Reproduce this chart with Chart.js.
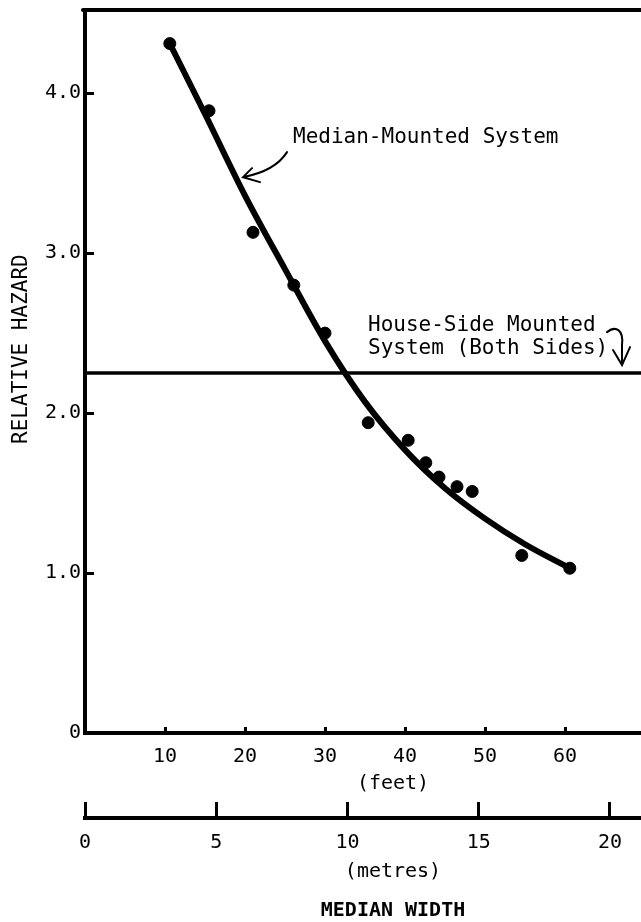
<!DOCTYPE html>
<html>
<head>
<meta charset="utf-8">
<title>Relative hazard vs median width</title>
<script src="https://cdn.jsdelivr.net/npm/chart.js@4/dist/chart.umd.min.js"></script>
<style>
  html, body { margin: 0; padding: 0; background: #fff; }
  canvas { display: block; }
</style>
</head>
<body>
<canvas id="hazardCanvas" width="641" height="922"></canvas>
<script>
// Valores (largura do canteiro em pés x risco relativo).
const feetObserved   = [10.6, 15.5, 21.0, 26.1, 30.0, 35.4, 40.4, 42.6, 44.25, 46.5, 48.4, 54.6, 60.6];
const hazardObserved = [4.31, 3.89, 3.13, 2.80, 2.50, 1.94, 1.83, 1.69, 1.60, 1.54, 1.51, 1.11, 1.03];

// Curva ajustada (Median-Mounted System), lida ao longo do traço.
const feetFitted   = [10.6, 15, 20, 25, 30, 35, 40, 45, 50, 55, 60.6];
const hazardFitted = [4.31, 3.87, 3.36, 2.90, 2.45, 2.07, 1.77, 1.53, 1.34, 1.18, 1.03];

// Nível constante do sistema montado dos dois lados.
const houseSideHazard = 2.25;

// Ticks
const feetTicks        = [10, 20, 30, 40, 50, 60];
const metreTicks       = [0, 5, 10, 15, 20];
const hazardTicks      = [0, 1, 2, 3, 4];
const hazardTickLabels = ['0', '1.0', '2.0', '3.0', '4.0'];

const FEET_MAX   = 69.5;
const HAZARD_MAX = 4.52;
const FT_PER_M   = 3.2808;

const FONT = "'DejaVu Sans Mono', monospace";
Chart.defaults.font.family = FONT;
Chart.defaults.font.size = 20;
Chart.defaults.color = '#000';

// Sem folga automática: a área do gráfico vai até a borda direita.
function noPad(s) {
  s.paddingTop = 0; s.paddingBottom = 0; s.paddingLeft = 0; s.paddingRight = 0;
}

// Títulos, setas e moldura de cima — desenhados por cima do gráfico.
const annotate = {
  id: 'annotate',
  afterDraw(chart) {
    const { ctx, chartArea: a } = chart;
    const x = chart.scales.x, y = chart.scales.y, xm = chart.scales.xm;
    ctx.save();
    ctx.strokeStyle = '#000';
    ctx.fillStyle = '#000';
    ctx.lineCap = 'round';

    // moldura superior
    ctx.lineWidth = 4;
    ctx.beginPath();
    ctx.moveTo(a.left - 2, a.top);
    ctx.lineTo(a.right, a.top);
    ctx.stroke();

    // título do eixo y
    ctx.save();
    ctx.translate(22, y.getPixelForValue(2.4));
    ctx.rotate(-Math.PI / 2);
    ctx.font = '21px ' + FONT;
    ctx.textAlign = 'center';
    ctx.textBaseline = 'middle';
    ctx.fillText('RELATIVE HAZARD', 0, 0);
    ctx.restore();

    // rótulos das curvas
    ctx.font = '21px ' + FONT;
    ctx.textAlign = 'left';
    ctx.textBaseline = 'middle';
    ctx.fillText('Median-Mounted System', x.getPixelForValue(26.0), y.getPixelForValue(3.725));
    ctx.fillText('House-Side Mounted', x.getPixelForValue(35.375), y.getPixelForValue(2.55));
    ctx.fillText('System (Both Sides)', x.getPixelForValue(35.375), y.getPixelForValue(2.406));

    // seta curva -> curva ajustada
    ctx.lineWidth = 2;
    let tx = x.getPixelForValue(19.75), ty = y.getPixelForValue(3.475);
    ctx.beginPath();
    ctx.moveTo(tx + 44, ty - 25);
    ctx.quadraticCurveTo(tx + 32, ty - 6, tx, ty);
    ctx.moveTo(tx + 9, ty - 9);
    ctx.lineTo(tx, ty);
    ctx.lineTo(tx + 17, ty + 5);
    ctx.stroke();

    // seta torcida -> linha horizontal
    tx = x.getPixelForValue(67.125); ty = y.getPixelForValue(2.3);
    ctx.beginPath();
    ctx.moveTo(tx - 15, ty - 33);
    ctx.bezierCurveTo(tx - 6, ty - 40, tx + 2, ty - 35, tx, ty - 20);
    ctx.lineTo(tx, ty - 1);
    ctx.moveTo(tx - 9, ty - 15);
    ctx.lineTo(tx, ty);
    ctx.lineTo(tx + 8, ty - 18);
    ctx.stroke();

    // títulos do eixo x
    const cx = x.getPixelForValue(38.5);
    ctx.textAlign = 'center';
    ctx.font = '20px ' + FONT;
    ctx.fillText('(feet)', cx, x.top + 51);
    ctx.fillText('(metres)', cx, xm.top + 54);
    ctx.font = 'bold 20px ' + FONT;
    ctx.fillText('MEDIAN WIDTH', cx, xm.top + 93);

    ctx.restore();
  }
};

const axisBorder = { display: true, color: '#000', width: 4 };

new Chart(document.getElementById('hazardCanvas'), {
  type: 'scatter',
  data: {
    datasets: [
      {
        label: 'Observed',
        data: feetObserved.map((f, i) => ({ x: f, y: hazardObserved[i] })),
        backgroundColor: '#000',
        borderColor: '#000',
        pointRadius: 6,
        pointHoverRadius: 6,
        order: 0,
      },
      {
        type: 'line',
        label: 'Median-Mounted System',
        data: feetFitted.map((f, i) => ({ x: f, y: hazardFitted[i] })),
        borderColor: '#000',
        borderWidth: 6,
        borderCapStyle: 'round',
        pointRadius: 0,
        cubicInterpolationMode: 'monotone',
        fill: false,
        order: 1,
      },
      {
        type: 'line',
        label: 'House-Side Mounted System (Both Sides)',
        data: [{ x: 0, y: houseSideHazard }, { x: FEET_MAX, y: houseSideHazard }],
        borderColor: '#000',
        borderWidth: 3.5,
        pointRadius: 0,
        fill: false,
        order: 2,
      },
    ],
  },
  options: {
    responsive: false,
    animation: false,
    events: [],
    layout: { autoPadding: false, padding: { top: 10, left: 0, right: 0, bottom: 0 } },
    plugins: { legend: { display: false }, tooltip: { enabled: false } },
    scales: {
      x: {
        type: 'linear',
        position: 'bottom',
        weight: 0,
        min: 0,
        max: FEET_MAX,
        afterBuildTicks: s => { s.ticks = feetTicks.map(v => ({ value: v })); },
        afterFit: s => { s.height = 85; noPad(s); },
        ticks: { padding: 18, font: { size: 20 } },
        grid: { drawOnChartArea: false, tickLength: -6, tickWidth: 3, tickColor: '#000' },
        border: axisBorder,
      },
      xm: {
        type: 'linear',
        axis: 'x',
        position: 'bottom',
        weight: 1,
        min: 0,
        max: FEET_MAX / FT_PER_M,
        afterBuildTicks: s => { s.ticks = metreTicks.map(v => ({ value: v })); },
        afterFit: s => { s.height = 104; noPad(s); },
        ticks: { padding: 29, font: { size: 20 } },
        grid: { drawOnChartArea: false, tickLength: -16, tickWidth: 3, tickColor: '#000' },
        border: axisBorder,
      },
      y: {
        type: 'linear',
        position: 'left',
        min: 0,
        max: HAZARD_MAX,
        afterBuildTicks: s => { s.ticks = hazardTicks.map(v => ({ value: v })); },
        afterFit: s => { s.width = 85; noPad(s); },
        ticks: {
          padding: 13,
          font: { size: 20 },
          callback: v => hazardTickLabels[hazardTicks.indexOf(v)],
        },
        grid: { drawOnChartArea: false, tickLength: -9, tickWidth: 3, tickColor: '#000' },
        border: axisBorder,
      },
    },
  },
  plugins: [annotate],
});
</script>
</body>
</html>
